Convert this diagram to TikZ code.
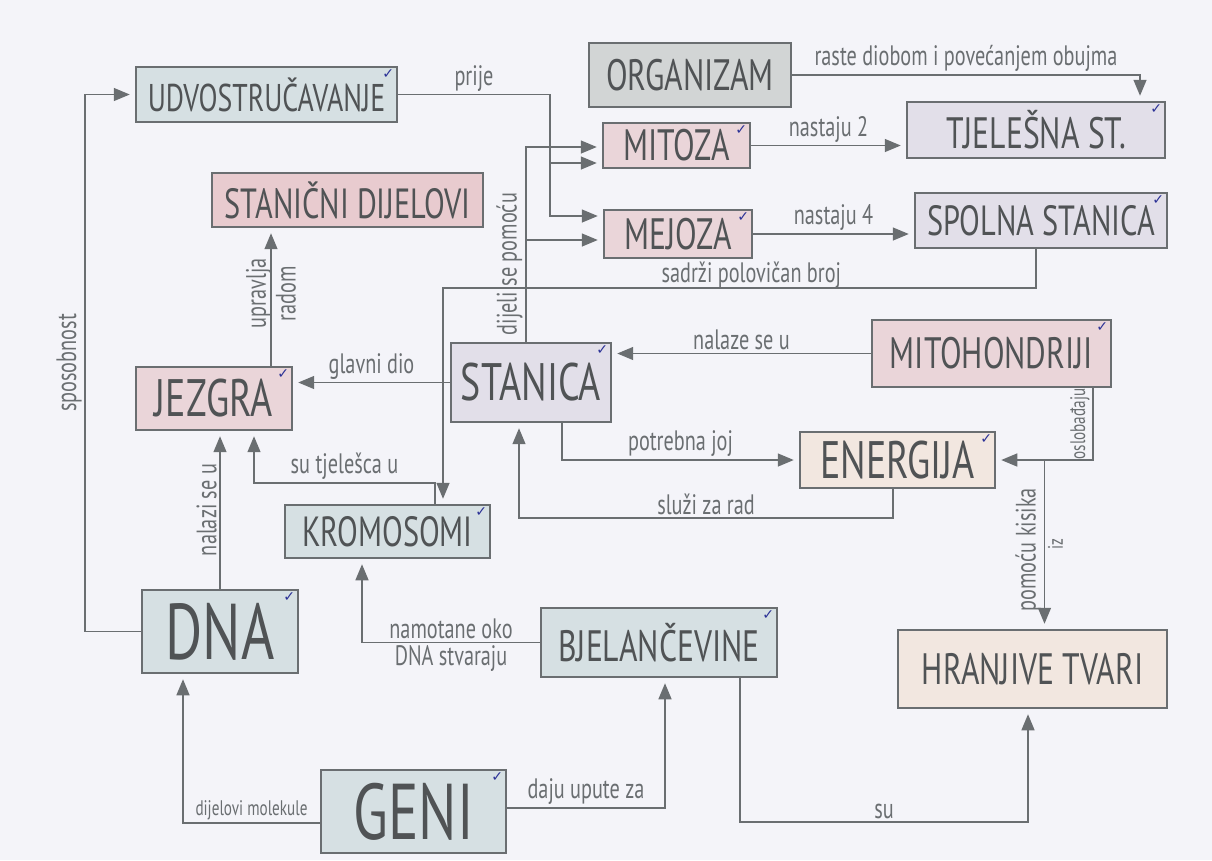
\documentclass[tikz,border=0pt]{standalone}
\usepackage{fontspec}
\setmainfont{PT Sans}[FakeStretch=0.72]
\newfontfamily\chkfont{DejaVu Sans}
\usetikzlibrary{arrows.meta,fit,calc}
\definecolor{paper}{HTML}{F4F4F9}
\definecolor{pencil}{HTML}{6A6E71}
\definecolor{ink}{HTML}{2B3196}
\definecolor{slate}{HTML}{D6E0E3}
\definecolor{rose}{HTML}{EAD5D9}
\definecolor{blush}{HTML}{E8CBCF}
\definecolor{lilac}{HTML}{E2DFE9}
\definecolor{peach}{HTML}{F2E7E0}
\definecolor{stone}{HTML}{D2D5D5}
\tikzset{
  box/.style={draw=pencil,line width=1.1pt,inner sep=0pt},
  term/.style 2 args={label={[text=pencil!75!black,inner sep=0pt,anchor=center,
    font=\fontsize{#1}{#1}\selectfont]center:#2}},
  checked/.style={label={[chk,anchor=north east]north east:✓}},
  arr/.style={-{Triangle[length=3.2mm,width=2.6mm]},line width=0.8pt,pencil,
    shorten >=3pt},
  lab/.style={font=\fontsize{16}{17}\selectfont,text=pencil,inner sep=1.5pt},
  sml/.style={font=\fontsize{12}{13}\selectfont},
  chk/.style={font=\chkfont\footnotesize,text=ink,inner sep=2pt}
}

\begin{document}
\begin{tikzpicture}[x=0.02cm,y=-0.02cm]
  \fill[paper] (0,0) rectangle (1212,860);
  \useasboundingbox (0,0) rectangle (1212,860);
  % pojmovi
  \node[box,fill=slate,term={22}{UDVOSTRUČAVANJE},checked,
    fit={(136,67)(397,122)}] (udv) {};
  \node[box,fill=stone,term={25}{ORGANIZAM},fit={(589,43)(791,107)}] (org) {};
  \node[box,fill=rose,term={25}{MITOZA},checked,fit={(603,123)(750,168)}] (mit) {};
  \node[box,fill=lilac,term={25}{TJELEŠNA ST.},checked,
    fit={(907,102)(1165,158)}] (tje) {};
  \node[box,fill=blush,term={24}{STANIČNI DIJELOVI},
    fit={(212,173)(483,227)}] (sdi) {};
  \node[box,fill=rose,term={25}{MEJOZA},checked,fit={(604,210)(752,258)}] (mej) {};
  \node[box,fill=lilac,term={24}{SPOLNA STANICA},checked,
    fit={(915,193)(1167,248)}] (spo) {};
  \node[box,fill=rose,term={25}{MITOHONDRIJI},checked,
    fit={(872,320)(1111,387)}] (mth) {};
  \node[box,fill=lilac,term={30}{STANICA},checked,fit={(451,343)(611,422)}] (sta) {};
  \node[box,fill=rose,term={30}{JEZGRA},checked,fit={(136,367)(292,430)}] (jez) {};
  \node[box,fill=peach,term={30}{ENERGIJA},checked,fit={(800,432)(995,488)}] (ene) {};
  \node[box,fill=slate,term={24}{KROMOSOMI},checked,
    fit={(285,505)(490,558)}] (kro) {};
  \node[box,fill=slate,term={45}{DNA},checked,fit={(142,590)(298,673)}] (dna) {};
  \node[box,fill=slate,term={25}{BJELANČEVINE},checked,
    fit={(541,608)(777,677)}] (bje) {};
  \node[box,fill=peach,term={25}{HRANJIVE TVARI},fit={(898,630)(1167,708)}] (hra) {};
  \node[box,fill=slate,term={45}{GENI},checked,fit={(321,770)(506,853)}] (gen) {};

  % veze
  \draw[arr] (dna.west) -- ++(-56,0) |- node[lab,rotate=90,anchor=south,pos=0.25]
    (lSpos) {sposobnost} (udv.west);
  \draw[arr] (udv.east) -- node[lab,above] (lPrije) {prije} (udv.east -| 550,0)
    coordinate (cPrije) |- (mej.west |- 0,216);
  \draw[arr] (cPrije |- 0,163) -- (mit.west |- 0,163);
  \draw[arr] (sta.north -| 526,0) -- node[lab,rotate=90,anchor=south,pos=0.4]
    (lDij) {dijeli se pomoću} (526,147) coordinate (cDij) -- (mit.west |- cDij);
  \draw[arr] (cDij |- 0,240) -- (mej.west |- 0,240);
  \draw[arr] (org.east) -| node[lab,above,pos=0.25] (lRaste)
    {raste diobom i povećanjem obujma} (tje.north -| 1140,0);
  \draw[arr] (mit.east) -- node[lab,above] (lNas2) {nastaju 2} (tje.west |- mit.east);
  \draw[arr] (mej.east) -- node[lab,above] (lNas4) {nastaju 4} (spo.west |- mej.east);
  \draw[arr] (spo.south -| 1036,0) |- node[lab,above=-2pt,pos=0.74] (lSad)
    {sadrži polovičan broj} (443,288) -- (kro.north -| 443,0);
  \draw[arr] (mth.west) -- node[lab,above] (lNal) {nalaze se u} (sta.east |- mth.west);
  \draw[arr] (sta.west) -- node[lab,above] (lGla) {glavni dio} (jez.east |- sta.west);
  \draw[arr] (jez.north -| 271,0) -- node[lab,rotate=90,xshift=2pt,align=center]
    (lUpr) {upravlja\\radom} (sdi.south -| 271,0);
  \draw[arr] (kro.north -| 435,0) |- node[lab,above,pos=0.75] (lTje)
    {su tjelešca u} (254,483) -- (jez.south -| 254,0);
  \draw[arr] (dna.north) -- node[lab,rotate=90,anchor=south] (lNlz) {nalazi se u}
    (jez.south -| dna.north);
  \draw[arr] (bje.west) -| node[lab,above,pos=0.25] (lNam) {namotane oko}
    node[lab,below,pos=0.25] (lDnaS) {DNA stvaraju} (kro.south -| 362,0);
  \draw[arr] (gen.west |- 0,823) -| node[lab,sml,above,pos=0.25] (lMol)
    {dijelovi molekule} (dna.south -| 183,0);
  \draw[arr] (gen.east |- 0,808) -| node[lab,above,pos=0.25] (lDaj)
    {daju upute za} (bje.south -| 665,0);
  \draw[arr] (bje.south -| 740,0) |- node[lab,above,pos=0.75] (lSu) {su}
    (1028,822) -- (hra.south -| 1028,0);
  \draw[arr] (sta.south -| 562,0) |- node[lab,above,pos=0.75] (lPot)
    {potrebna joj} (ene.west);
  \draw[arr] (ene.south -| 893,0) |- node[lab,above,pos=0.75] (lSlu)
    {služi za rad} (519,518) -- (sta.south -| 519,0);
  \draw[arr] (mth.south -| 1093,0) |- node[lab,sml,rotate=90,anchor=south,pos=0.25]
    (lOsl) {oslobađaju} coordinate[pos=0.75] (cKis) (ene.east);
  \draw[arr] (cKis) -- node[lab,rotate=90,anchor=south,pos=0.53] (lKis)
    {pomoću kisika} node[lab,sml,rotate=90,anchor=north,pos=0.5] (lIz) {iz}
    (hra.north -| cKis);
\end{tikzpicture}
\end{document}
